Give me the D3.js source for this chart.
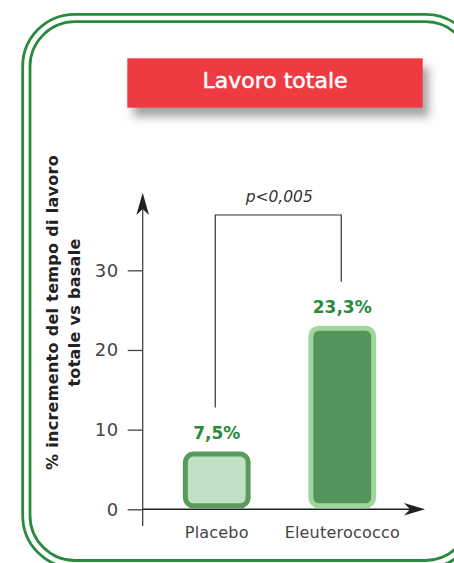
<!DOCTYPE html>
<html>
<head>
<meta charset="utf-8">
<script src="https://cdn.jsdelivr.net/npm/d3@7.9.0/dist/d3.min.js"></script>
<style>
  html, body { margin: 0; padding: 0; background: #fff; }
  svg { display: block; }
</style>
</head>
<body>
<svg id="chart" width="454" height="563"></svg>
<script>
// data
const categories = ["Placebo", "Eleuterococco"];
const values = [7.5, 23.3];
const valueLabels = ["7,5%", "23,3%"];
const yTicks = [0, 10, 20, 30];
const titleText = "Lavoro totale";
const pText = "p<0,005";
const yLabelLines = ["% incremento del tempo di lavoro", "totale vs basale"];

const barFills = ["#c2e0c3", "#55945a"];
const barStrokes = ["#5a9a5c", "#9ed69e"];
const green = "#2a8a3e";

const svg = d3.select("#chart");

// drop shadow for title box
const defs = svg.append("defs");
defs.append("filter").attr("id", "shadow")
  .attr("x", "-10%").attr("y", "-30%").attr("width", "130%").attr("height", "190%")
  .append("feDropShadow")
  .attr("dx", 6).attr("dy", 9).attr("stdDeviation", 5)
  .attr("flood-color", "#555").attr("flood-opacity", 0.55);

// double green frame
svg.append("rect")
  .attr("x", 22.7).attr("y", 14.3).attr("width", 455).attr("height", 553.5)
  .attr("rx", 52).attr("fill", "none").attr("stroke", green).attr("stroke-width", 2.8);
svg.append("rect")
  .attr("x", 30).attr("y", 21.7).attr("width", 440.3).attr("height", 538.8)
  .attr("rx", 45).attr("fill", "none").attr("stroke", green).attr("stroke-width", 2.8);

// title
svg.append("rect")
  .attr("x", 127.3).attr("y", 58.3).attr("width", 295.4).attr("height", 49.4)
  .attr("fill", "#ee3a43").attr("filter", "url(#shadow)");
svg.append("text")
  .attr("x", 275).attr("y", 88)
  .attr("text-anchor", "middle")
  .attr("font-family", "DejaVu Sans")
  .attr("font-size", 22)
  .attr("fill", "#fff").attr("stroke", "#fff").attr("stroke-width", 0.5)
  .text(titleText);

// scales
const y = d3.scaleLinear().domain([0, 30]).range([509.3, 270.3]);
const x = d3.scaleBand().domain(categories)
  .range([154, 405]).paddingInner(0.46).paddingOuter(0.23);

// y axis
const yAxis = svg.append("g")
  .attr("transform", "translate(142.7,0)")
  .call(d3.axisLeft(y).tickValues(yTicks).tickSize(15).tickPadding(9).tickFormat(d3.format("d")));
yAxis.select(".domain").remove();
yAxis.selectAll(".tick line").attr("stroke", "#444").attr("stroke-width", 1.3);
yAxis.selectAll(".tick text")
  .attr("font-family", "DejaVu Sans").attr("font-size", 18)
  .attr("letter-spacing", 0.5)
  .attr("fill", "#444");

svg.append("line")
  .attr("x1", 142.7).attr("x2", 142.7).attr("y1", 205).attr("y2", 526)
  .attr("stroke", "#444").attr("stroke-width", 1.3);
svg.append("path")
  .attr("d", "M142.7,192.7 L149,215 L142.7,209 L136.4,215 Z")
  .attr("fill", "#222");

// x axis
svg.append("line")
  .attr("x1", 142.7).attr("x2", 412).attr("y1", y(0)).attr("y2", y(0))
  .attr("stroke", "#222").attr("stroke-width", 1.5);
svg.append("path")
  .attr("d", `M425,${y(0)} L404,${y(0) - 6.3} L410,${y(0)} L404,${y(0) + 6.3} Z`)
  .attr("fill", "#222");

svg.append("g").selectAll("text")
  .data(categories)
  .join("text")
  .attr("x", d => x(d) + x.bandwidth() / 2)
  .attr("y", 538)
  .attr("text-anchor", "middle")
  .attr("font-family", "DejaVu Sans").attr("font-size", 16)
  .attr("letter-spacing", 0.2)
  .attr("fill", "#444")
  .text(d => d);

// bars
const sw = 5;
svg.append("g").selectAll("rect")
  .data(values)
  .join("rect")
  .attr("x", (d, i) => x(categories[i]) + sw / 2)
  .attr("y", d => y(d) + 2 + sw / 2)
  .attr("width", x.bandwidth() - sw)
  .attr("height", d => (y(0) - 1) - (y(d) + 2) - sw)
  .attr("rx", 8)
  .attr("fill", (d, i) => barFills[i])
  .attr("stroke", (d, i) => barStrokes[i])
  .attr("stroke-width", sw);

// value labels
svg.append("g").selectAll("text")
  .data(values)
  .join("text")
  .attr("x", (d, i) => x(categories[i]) + x.bandwidth() / 2)
  .attr("y", d => y(d) - 10.5)
  .attr("text-anchor", "middle")
  .attr("font-family", "DejaVu Sans").attr("font-weight", "bold").attr("font-size", 17)
  .attr("fill", green)
  .text((d, i) => valueLabels[i]);

// significance bracket
const bx1 = x(categories[0]) + x.bandwidth() / 2 - 1.5;
const bx2 = x(categories[1]) + x.bandwidth() / 2 - 1;
const bTop = 215;
svg.append("path")
  .attr("d", `M${bx1},${y(values[0]) - 42} V${bTop} H${bx2} V${y(values[1]) - 42}`)
  .attr("fill", "none").attr("stroke", "#333").attr("stroke-width", 1.2);
svg.append("text")
  .attr("x", (bx1 + bx2) / 2 + 1).attr("y", 201.5)
  .attr("text-anchor", "middle")
  .attr("font-family", "DejaVu Sans").attr("font-style", "italic").attr("font-size", 15.5)
  .attr("fill", "#333")
  .text(pText);

// y label
const yl = svg.append("text")
  .attr("transform", "translate(0,312.5) rotate(-90)")
  .attr("text-anchor", "middle")
  .attr("font-family", "DejaVu Sans").attr("font-weight", "bold").attr("font-size", 16)
  .attr("letter-spacing", 0.3)
  .attr("fill", "#222");
yl.selectAll("tspan")
  .data(yLabelLines)
  .join("tspan")
  .attr("x", 0)
  .attr("y", (d, i) => 58 + i * 22)
  .text(d => d);
</script>
</body>
</html>
